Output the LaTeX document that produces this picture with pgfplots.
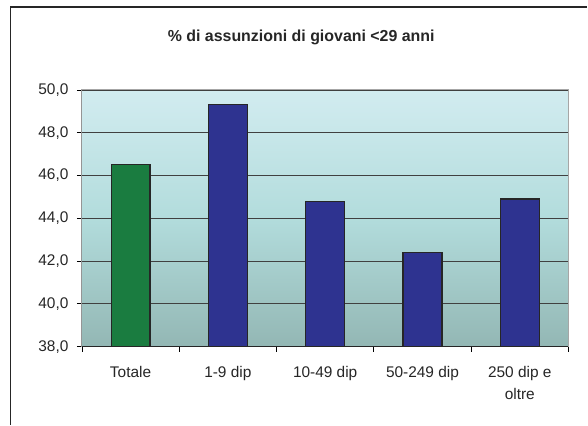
\documentclass[border=0pt]{standalone}
\usepackage{pgfplots}
\pgfplotsset{compat=1.18}
\usepackage{fontspec}
\setmainfont{Liberation Sans}
\definecolor{bargreen}{HTML}{1A7C40}
\definecolor{barblue}{HTML}{2E3390}
\definecolor{bgtop}{HTML}{D2ECF0}
\definecolor{bgmid}{HTML}{B2DCDC}
\definecolor{bgbot}{HTML}{93B7B4}
\begin{document}
\begin{tikzpicture}
\path (0bp,0bp) rectangle (588bp,425bp);
\draw[line width=1.2bp,black!85] (10.5bp,0bp) -- (10.5bp,418bp) -- (588bp,418bp);
\node[font=\bfseries\fontsize{16}{19}\selectfont, text=black!85] at (301.5bp,388bp) {\% di assunzioni di giovani <29 anni};
\begin{axis}[
  at={(82bp,78bp)}, anchor=south west,
  scale only axis, width=487bp, height=257bp,
  xmin=-0.5, xmax=4.5, ymin=38, ymax=50,
  ytick={38,40,...,50},
  xtick={0,1,2,3,4},
  xticklabels={Totale,1-9 dip,10-49 dip,50-249 dip,{250 dip e\\oltre}},
  xticklabel style={align=center, font=\fontsize{15.5}{22}\selectfont, yshift=-11bp, text=black!85},
  yticklabel style={font=\fontsize{15.5}{18}\selectfont, xshift=-5bp, text=black!85},
  minor xtick={-0.5,0.5,...,4.5},
  major x tick style={draw=none},
  minor tick length=5bp, major tick length=5bp,
  tick align=outside,
  xtick pos=bottom, ytick pos=left,
  tick style={black, line width=0.8bp},
  ymajorgrids,
  grid style={black!75, line width=0.8bp},
  axis line style={black!35, line width=1bp},
  axis background/.style={top color=bgtop, bottom color=bgbot, middle color=bgmid},
  /pgf/number format/.cd, fixed, fixed zerofill, precision=1, use comma, assume math mode=true,
]
\addplot[ybar, bar width=0.40, fill=bargreen, draw=black!85, line width=1.2bp] coordinates {(0,46.5)};
\addplot[ybar, bar width=0.40, fill=barblue, draw=black!85, line width=1.2bp] coordinates {(1,49.3) (2,44.8) (3,42.4) (4,44.9)};
\draw[black!85, line width=1bp] (rel axis cs:0,1) -- (rel axis cs:0,0) -- (rel axis cs:1,0);
\end{axis}
\end{tikzpicture}
\end{document}
